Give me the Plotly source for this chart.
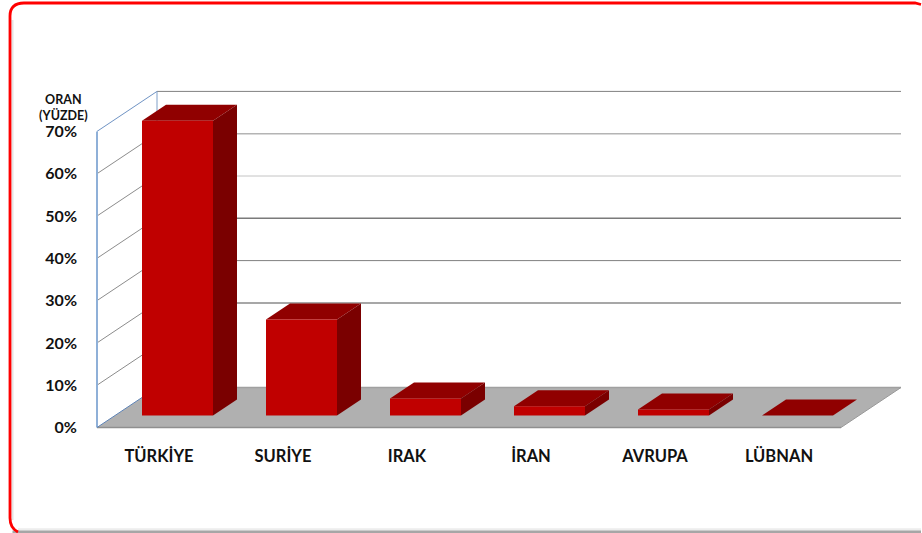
import plotly.graph_objects as go

categories = ["TÜRKİYE", "SURİYE", "IRAK", "İRAN", "AVRUPA", "LÜBNAN"]
values = [69.7, 22.7, 4.0, 2.2, 1.4, 0.0]
y_ticks = [0, 10, 20, 30, 40, 50, 60, 70]
y_labels = ["0%", "10%", "20%", "30%", "40%", "50%", "60%", "70%"]

W, H = 922, 533
PX_PER_CAT = 124.0
PX_PER_PCT = 4.23
DEPTH_X = 60 / PX_PER_CAT      # oblique shift of the full floor depth, in category units
DEPTH_Y = 40 / PX_PER_PCT      # same, in percent units
BAR_W = 71 / PX_PER_CAT
D0, D1 = 0.30, 0.70            # bar's depth span on the floor
BAR_SHIFT = 0.5 / PX_PER_CAT
FONT = "Lato"


def pr(x, v, d):
    return x + d * DEPTH_X, v + d * DEPTH_Y


def poly(points, color, line=None, width=1, closed=True):
    xs, ys = zip(*points)
    if closed:
        return go.Scatter(x=list(xs) + [xs[0]], y=list(ys) + [ys[0]], mode="lines", fill="toself",
                          fillcolor=color, line=dict(color=line or color, width=width if line else 0),
                          hoverinfo="skip", showlegend=False)
    return go.Scatter(x=list(xs), y=list(ys), mode="lines", line=dict(color=color, width=width),
                      hoverinfo="skip", showlegend=False)


fig = go.Figure()
n = len(categories)

# floor
fig.add_trace(poly([pr(0, 0, 0), pr(n, 0, 0), pr(n, 0, 1), pr(0, 0, 1)], "#B0B0B0"))
fig.add_trace(poly([pr(0, 0, 0), pr(n, 0, 0)], "#8F8F8F", width=1.5, closed=False))
fig.add_trace(poly([pr(0, 0, 1), pr(n, 0, 1)], "#A0A0A0", width=1.5, closed=False))
fig.add_trace(poly([pr(n, 0, 0), pr(n, 0, 1)], "#9A9A9A", width=1, closed=False))

# gridlines on side and back walls (the reference shows no 10% line on the back wall)
back_colors = {20: "#8A8A8A", 30: "#808080", 40: "#7A7A7A", 50: "#C4C4C4", 60: "#B4B4B4", 70: "#808080"}
back_widths = {20: 1.5, 30: 1, 40: 1.5, 50: 1, 60: 1.5, 70: 1}
for t in y_ticks[1:]:
    side = "#6F93C4" if t == 70 else "#8C8C8C"
    fig.add_trace(poly([pr(0, t, 0), pr(0, t, 1)], side, closed=False))
    if t in back_colors:
        fig.add_trace(poly([pr(0, t, 1), pr(n, t, 1)], back_colors[t], width=back_widths[t], closed=False))

# wall edges
fig.add_trace(poly([pr(0, 0, 0), pr(0, 70, 0)], "#8FB0D8", width=2, closed=False))
fig.add_trace(poly([pr(0, 0, 1), pr(0, 70, 1)], "#7F9FC8", closed=False))
fig.add_trace(poly([pr(0, 0, 0), pr(0, 0, 1)], "#5F85B8", closed=False))

# bars
for i, v in enumerate(values):
    x0 = i + 0.5 - BAR_W / 2 + BAR_SHIFT
    x1 = i + 0.5 + BAR_W / 2 + BAR_SHIFT
    fig.add_trace(poly([pr(x0, v, D0), pr(x1, v, D0), pr(x1, v, D1), pr(x0, v, D1)], "#900000"))
    if v > 0:
        fig.add_trace(poly([pr(x1, 0, D0), pr(x1, v, D0), pr(x1, v, D1), pr(x1, 0, D1)], "#7A0000"))
        fig.add_trace(poly([pr(x0, 0, D0), pr(x1, 0, D0), pr(x1, v, D0), pr(x0, v, D0)], "#C00000"))

# plot area in page pixels
L, R, T, B = 95, 904, 89, 430
ZX, ZY = 97, 427.5


def px(x):
    return (x - L) / (R - L)


def py(y):
    return (B - y) / (B - T)


def hline(x0, x1, y, color, width):
    return dict(type="line", xref="paper", yref="paper", layer="below",
                x0=px(x0), x1=px(x1), y0=py(y), y1=py(y), line=dict(color=color, width=width))


fig.update_layout(
    width=W, height=H, margin=dict(l=L, r=W - R, t=T, b=H - B, pad=0),
    paper_bgcolor="white", plot_bgcolor="rgba(0,0,0,0)", showlegend=False,
    xaxis=dict(range=[(L - ZX) / PX_PER_CAT, (R - ZX) / PX_PER_CAT], tickmode="array",
               tickvals=[i + 0.5 for i in range(n)], ticktext=categories, showgrid=False, zeroline=False,
               showline=False, ticks="", ticklabelstandoff=14, tickangle=0,
               tickfont=dict(family=FONT, size=16.5, color="#111111", weight=700)),
    yaxis=dict(range=[(ZY - B) / PX_PER_PCT, (ZY - T) / PX_PER_PCT], tickmode="array",
               tickvals=y_ticks, ticktext=y_labels, showgrid=False, zeroline=False,
               showline=False, ticks="", ticklabelstandoff=17,
               tickfont=dict(family=FONT, size=16, color="#111111", weight=700)),
    annotations=[dict(xref="paper", yref="paper", x=px(63), y=py(107.5),
                      text="ORAN<br>(YÜZDE)", showarrow=False, align="center", xanchor="center", yanchor="middle",
                      font=dict(family=FONT, size=12.5, color="#111111", weight=700))],
    shapes=[
        hline(18, 921, 529.5, "#EDEDED", 2.5),
        hline(12.5, 921, 531.8, "#A6A6A6", 2.5),
        dict(type="line", xref="paper", yref="paper", layer="below",
             x0=px(12.5), x1=px(12.5), y0=py(20), y1=py(520), line=dict(color="#E4E4E4", width=2)),
        dict(type="path", xref="paper", yref="paper", layer="below",
             path=" ".join([
                 f"M {px(18)} {py(532)}",
                 f"Q {px(10)} {py(528)} {px(10)} {py(518)}",
                 f"L {px(10)} {py(16)}",
                 f"Q {px(10)} {py(3)} {px(24)} {py(3)}",
                 f"L {px(915)} {py(3)}",
                 f"L {px(921)} {py(4.5)}",
             ]),
             line=dict(color="#FF0000", width=2.8)),
    ],
)

fig.write_html("out.html", config=dict(displayModeBar=False),
               post_script="document.body.style.margin='0';document.body.style.overflow='hidden';")
